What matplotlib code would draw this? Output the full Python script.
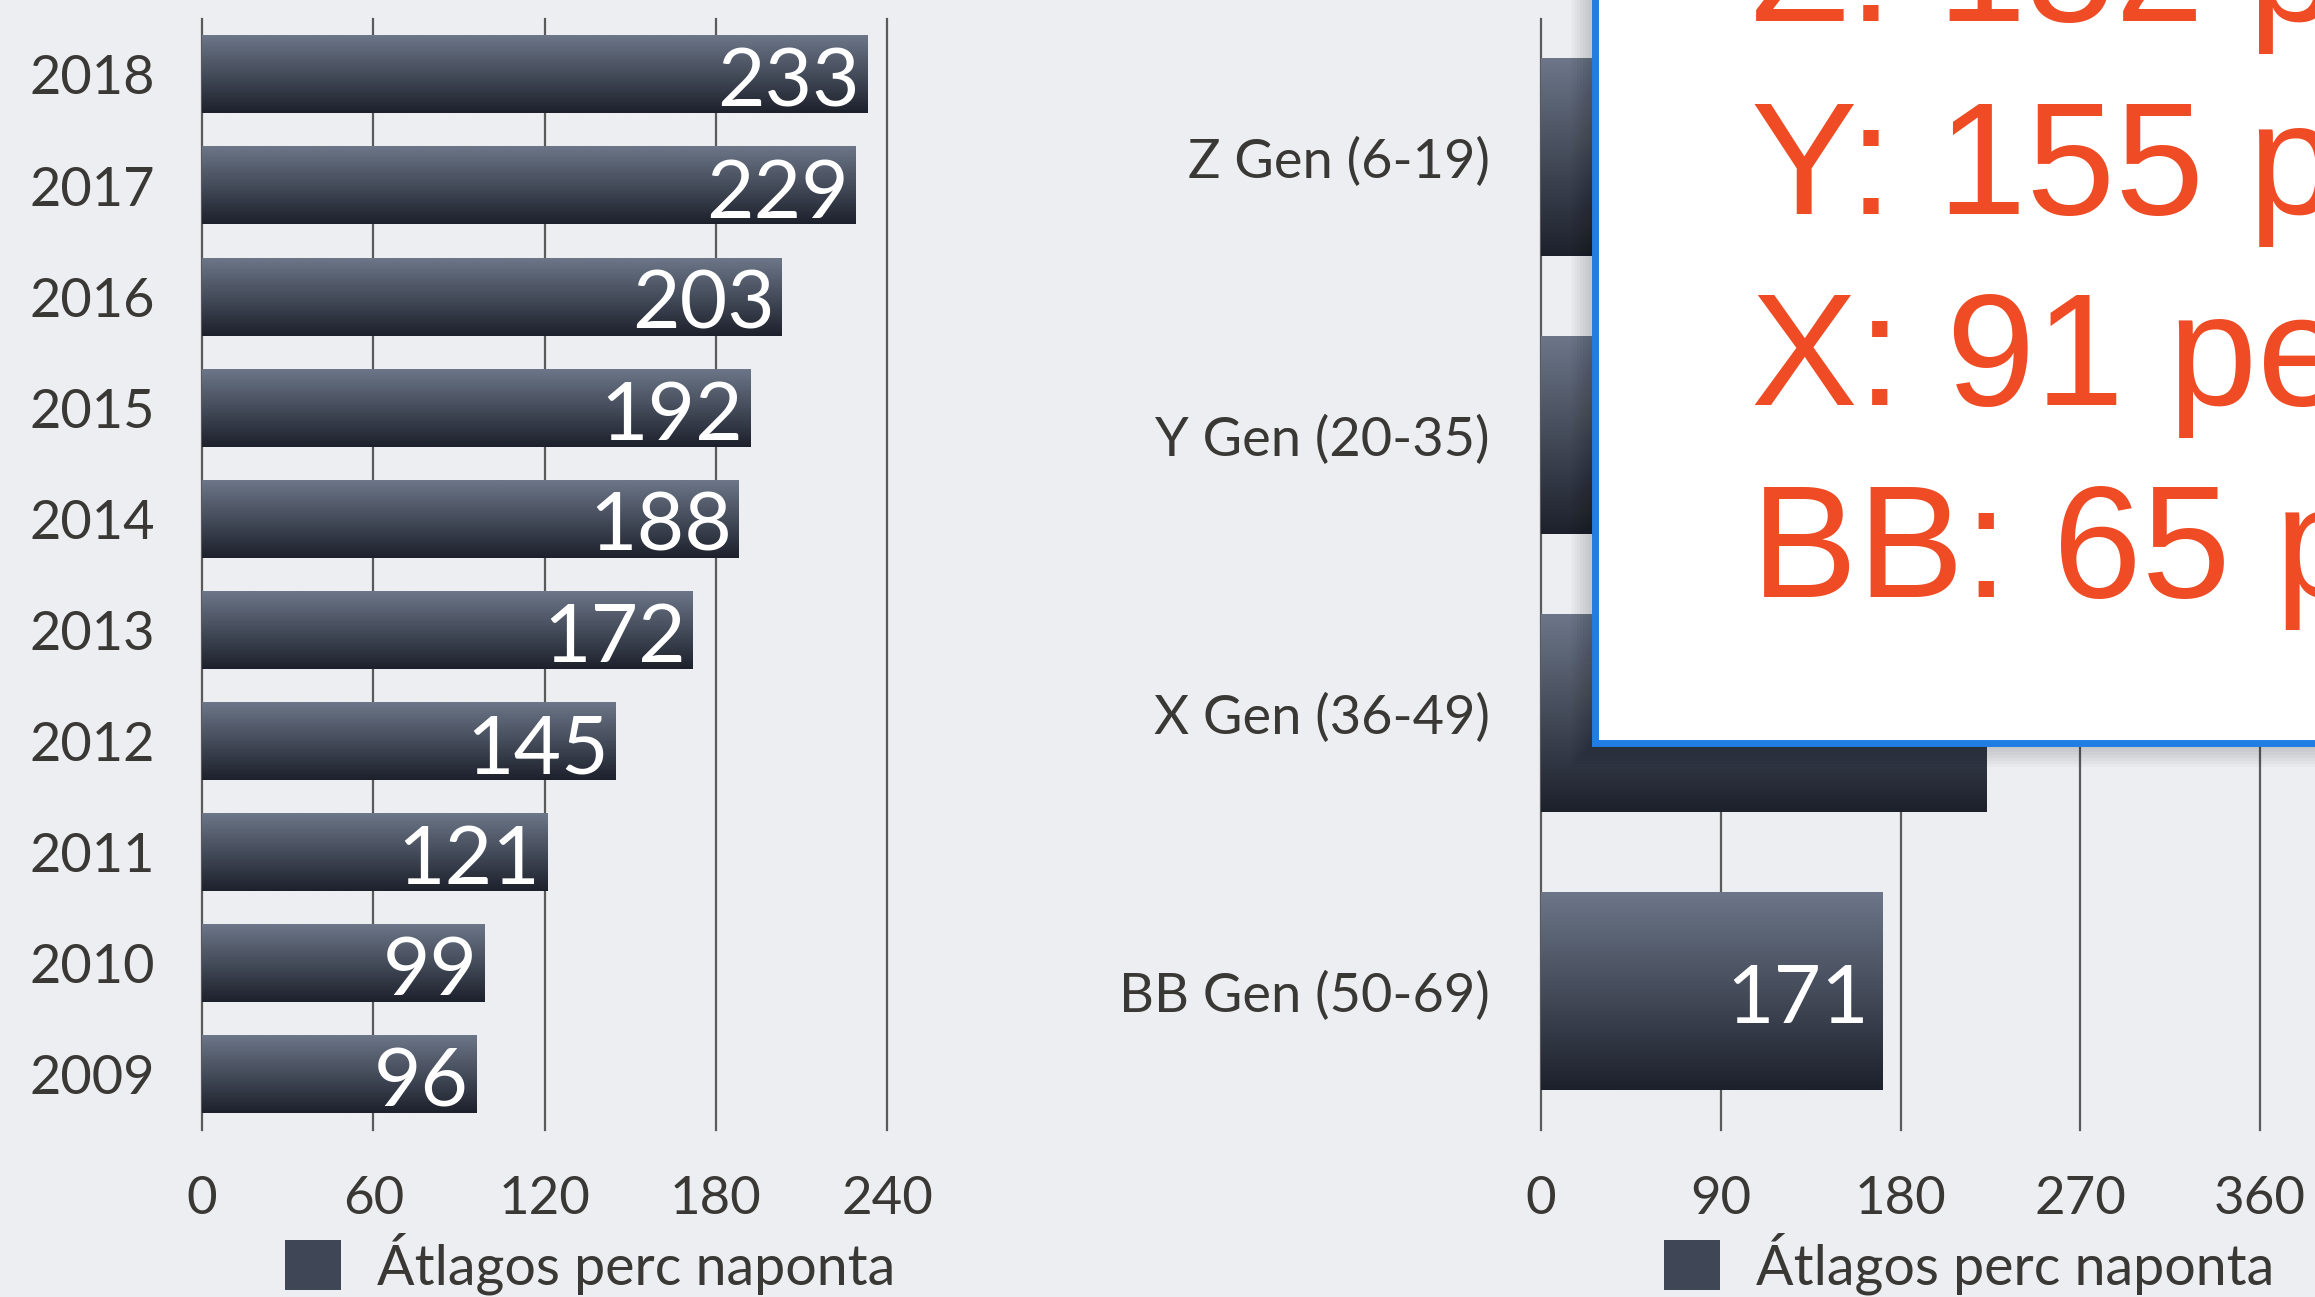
import matplotlib
matplotlib.use('Agg')
import matplotlib.pyplot as plt
import matplotlib.patches as mpatches
import numpy as np

# data
years = ['2018', '2017', '2016', '2015', '2014', '2013', '2012', '2011', '2010', '2009']
minutes_by_year = [233, 229, 203, 192, 188, 172, 145, 121, 99, 96]
year_ticks = [0, 60, 120, 180, 240]

generations = ['Z Gen (6-19)', 'Y Gen (20-35)', 'X Gen (36-49)', 'BB Gen (50-69)']
minutes_by_gen = [245, 238, 223, 171]   # Z and Y are hidden under the box
gen_ticks = [0, 90, 180, 270, 360]

legend_label = 'Átlagos perc naponta'
box_lines = ['Z: 152 perc', 'Y: 155 perc', 'X: 91 perc', 'BB: 65 perc']

plt.rcParams['font.family'] = ['Lato', 'DejaVu Sans']

bg = '#eceef1'
txt = '#3a3835'
grid_c = '#5a5a5a'
bar_top = np.array([0x6c, 0x76, 0x88]) / 255
bar_bot = np.array([0x1d, 0x21, 0x2c]) / 255

fig = plt.figure(figsize=(23.15, 12.97), dpi=100)
fig.patch.set_facecolor(bg)

grad = np.linspace(0, 1, 64)[:, None, None]
grad_img = bar_bot + (bar_top - bar_bot) * grad   # row 0 = bottom (dark)


def draw_chart(ax, labels, values, ticks, label_pad, value_off, height):
    n = len(labels)
    ypos = np.arange(n)[::-1]
    ax.set_facecolor('none')
    bars = ax.barh(ypos, values, height=height, color='none', edgecolor='none', zorder=3)
    for b in bars:
        x0, y0 = b.get_x(), b.get_y()
        ax.imshow(grad_img, extent=[x0, x0 + b.get_width(), y0, y0 + b.get_height()],
                  origin='lower', aspect='auto', zorder=3, interpolation='bilinear')
    for y, v in zip(ypos, values):
        ax.annotate(str(v), (v, y), xytext=(-value_off, -23), textcoords='offset points',
                    ha='right', va='baseline', color='white', fontsize=59, zorder=4)
    ax.set_xlim(ticks[0], ticks[-1])
    ax.set_ylim(-0.5, n - 0.5)
    for t in ticks:
        ax.axvline(t, color=grid_c, lw=1.6, zorder=1, clip_on=False)
    ax.set_xticks(ticks)
    ax.set_yticks(ypos)
    ax.set_yticklabels(labels)
    ax.tick_params(axis='x', length=0, pad=33, labelsize=38, labelcolor=txt)
    ax.tick_params(axis='y', length=0, pad=label_pad, labelsize=39, labelcolor=txt)
    for s in ax.spines.values():
        s.set_visible(False)


ax1 = fig.add_axes([0.0873, 0.1288, 0.2959, 0.8566])
draw_chart(ax1, years, minutes_by_year, year_ticks, 34, 5, 0.7)

ax2 = fig.add_axes([0.6657, 0.1288, 0.3106, 0.8566])
draw_chart(ax2, generations, minutes_by_gen, gen_ticks, 37, 10, 0.71)

for x_anchor in [0.1231, 0.7188]:
    h = mpatches.Patch(facecolor='#3f4655', edgecolor='none', label=legend_label)
    fig.legend(handles=[h], loc='center left', bbox_to_anchor=(x_anchor, 0.026),
               bbox_transform=fig.transFigure, frameon=False, fontsize=40,
               handlelength=1.0, handleheight=1.0, handletextpad=0.65,
               borderpad=0, borderaxespad=0, labelcolor=txt)

# overlay box with red text
bx, by = 0.6888, 0.4271
for k in range(8):
    d = (k + 1) * 3
    sh = mpatches.Rectangle((bx - d / 2315, by - d / 1297), 0.5, 0.8,
                            transform=fig.transFigure, facecolor='black',
                            edgecolor='none', alpha=0.025, zorder=9)
    fig.add_artist(sh)
box = mpatches.Rectangle((bx, by), 0.5, 0.8, transform=fig.transFigure,
                         facecolor='white', edgecolor='#1f7de3', linewidth=5, zorder=10)
fig.add_artist(box)

for s, yb in zip(box_lines, [0.9838, 0.835, 0.6877, 0.5397]):
    fig.text(0.7565, yb, s, fontsize=115, color='#ef4b24', va='baseline', ha='left',
             family=['Liberation Sans', 'DejaVu Sans'], zorder=11)

fig.savefig('out.png', dpi=100, facecolor=fig.get_facecolor())
